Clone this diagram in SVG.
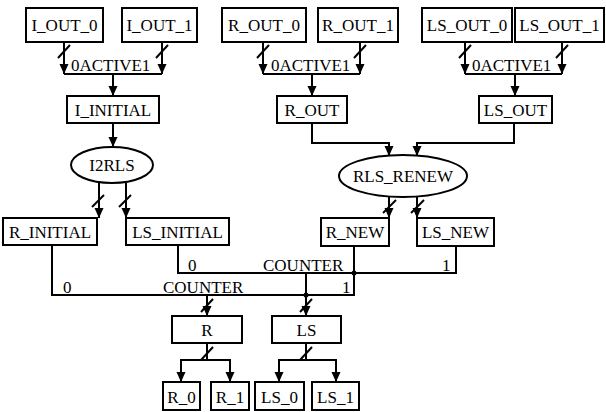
<svg xmlns="http://www.w3.org/2000/svg" width="606" height="412" viewBox="0 0 606 412">
<style>
rect.n{fill:#fff;stroke:#000;stroke-width:2}
ellipse.n{fill:#fff;stroke:#000;stroke-width:2}
text{font-family:"Liberation Serif","Times New Roman",serif;font-size:17px;fill:#000}
text.c{text-anchor:middle}
.w{fill:none;stroke:#000;stroke-width:2}
.a{fill:none;stroke:#000;stroke-width:2;marker-end:url(#ah)}
.s{stroke:#000;stroke-width:2}
</style>
<defs>
<marker id="ah" markerUnits="userSpaceOnUse" markerWidth="10" markerHeight="10" refX="10" refY="5" orient="auto">
<path d="M0,0.5 L10,5 L0,9.5 z" fill="#000"/>
</marker>
</defs>
<rect width="606" height="412" fill="#fff"/>
<g id="connectors">
<!-- I group -->
<path class="a" d="M64,42 V74"/>
<path class="a" d="M162,42 V74"/>
<path class="w" d="M64,74 H162"/>
<path class="a" d="M113,74 V96"/>
<line class="s" x1="58" y1="58" x2="70" y2="45"/>
<line class="s" x1="156" y1="58" x2="168" y2="45"/>
<text x="71" y="71">0ACTIVE1</text>
<!-- R group -->
<path class="a" d="M263,42 V74"/>
<path class="a" d="M360,42 V74"/>
<path class="w" d="M263,74 H360"/>
<path class="a" d="M312,74 V96"/>
<line class="s" x1="257" y1="58" x2="269" y2="45"/>
<line class="s" x1="354" y1="58" x2="366" y2="45"/>
<text x="271" y="71">0ACTIVE1</text>
<!-- LS group -->
<path class="a" d="M465,42 V74"/>
<path class="a" d="M562,42 V74"/>
<path class="w" d="M465,74 H562"/>
<path class="a" d="M515,74 V96"/>
<line class="s" x1="459" y1="58" x2="471" y2="45"/>
<line class="s" x1="556" y1="58" x2="568" y2="45"/>
<text x="472" y="71">0ACTIVE1</text>
<!-- I_INITIAL to I2RLS -->
<path class="a" d="M113,123 V147"/>
<!-- R_OUT / LS_OUT to RLS_RENEW -->
<path class="a" d="M312,123 V143 H389 V156"/>
<path class="a" d="M514,123 V143 H417 V156"/>
<!-- I2RLS outputs -->
<path class="a" d="M99,183 V218"/>
<path class="a" d="M126,183 V218"/>
<line class="s" x1="92" y1="207" x2="104" y2="195"/>
<line class="s" x1="119" y1="207" x2="131" y2="195"/>
<!-- RLS_RENEW outputs -->
<path class="a" d="M389,197 V218"/>
<path class="a" d="M417,197 V218"/>
<line class="s" x1="383" y1="213" x2="396" y2="200"/>
<line class="s" x1="411" y1="213" x2="424" y2="200"/>
<!-- Counter bus A (LS) -->
<path class="w" d="M178,245 V273 H456 V246"/>
<path class="a" d="M306,273 V316"/>
<line class="s" x1="300" y1="312" x2="312" y2="299"/>
<text x="188" y="271">0</text>
<text x="263" y="271">COUNTER</text>
<text x="442" y="271">1</text>
<!-- Counter bus B (R) -->
<path class="w" d="M52,245 V295 H354 V246"/>
<path class="a" d="M207,295 V316"/>
<line class="s" x1="201" y1="312" x2="213" y2="299"/>
<text x="63" y="293">0</text>
<text x="163" y="293">COUNTER</text>
<text x="342" y="293">1</text>
<circle cx="354" cy="273" r="2.5" fill="#000"/>
<circle cx="306" cy="295" r="2.5" fill="#000"/>
<!-- R split -->
<path class="w" d="M207,343 V360"/>
<path class="a" d="M207,360 H181 V382"/>
<path class="a" d="M207,360 H230 V382"/>
<line class="s" x1="201" y1="360" x2="213" y2="347"/>
<!-- LS split -->
<path class="w" d="M306,343 V360"/>
<path class="a" d="M306,360 H279 V382"/>
<path class="a" d="M306,360 H336 V382"/>
<line class="s" x1="300" y1="360" x2="312" y2="347"/>
</g>
<g id="I_OUT_0"><rect class="n" x="26" y="8" width="77" height="34"/><text class="c" x="64.5" y="31">I_OUT_0</text></g>
<g id="I_OUT_1"><rect class="n" x="122" y="8" width="75" height="34"/><text class="c" x="159.5" y="31">I_OUT_1</text></g>
<g id="R_OUT_0"><rect class="n" x="222" y="8" width="84" height="34"/><text class="c" x="264" y="31">R_OUT_0</text></g>
<g id="R_OUT_1"><rect class="n" x="318" y="8" width="80" height="34"/><text class="c" x="358" y="31">R_OUT_1</text></g>
<g id="LS_OUT_0"><rect class="n" x="422" y="8" width="90" height="34"/><text class="c" x="467" y="31">LS_OUT_0</text></g>
<g id="LS_OUT_1"><rect class="n" x="515" y="8" width="89" height="34"/><text class="c" x="559.5" y="31">LS_OUT_1</text></g>
<g id="I_INITIAL"><rect class="n" x="67" y="96" width="92" height="27"/><text class="c" x="113" y="116">I_INITIAL</text></g>
<g id="R_OUT"><rect class="n" x="277" y="96" width="70" height="27"/><text class="c" x="312" y="116">R_OUT</text></g>
<g id="LS_OUT"><rect class="n" x="479" y="96" width="73" height="27"/><text class="c" x="515.5" y="116">LS_OUT</text></g>
<g id="I2RLS"><ellipse class="n" cx="112" cy="165" rx="41" ry="18"/><text class="c" x="112" y="171">I2RLS</text></g>
<g id="RLS_RENEW"><ellipse class="n" cx="403" cy="176" rx="64" ry="21"/><text class="c" x="403" y="182">RLS_RENEW</text></g>
<g id="R_INITIAL"><rect class="n" x="3" y="218" width="94" height="27"/><text class="c" x="50" y="238">R_INITIAL</text></g>
<g id="LS_INITIAL"><rect class="n" x="126" y="218" width="103" height="27"/><text class="c" x="177.5" y="238">LS_INITIAL</text></g>
<g id="R_NEW"><rect class="n" x="321" y="218" width="68" height="28"/><text class="c" x="355" y="238">R_NEW</text></g>
<g id="LS_NEW"><rect class="n" x="417" y="218" width="77" height="28"/><text class="c" x="455.5" y="238">LS_NEW</text></g>
<g id="R"><rect class="n" x="172" y="316" width="70" height="27"/><text class="c" x="207" y="336">R</text></g>
<g id="LS"><rect class="n" x="272" y="316" width="69" height="27"/><text class="c" x="306.5" y="336">LS</text></g>
<g id="R_0"><rect class="n" x="163" y="382" width="37" height="28"/><text class="c" x="181.5" y="403">R_0</text></g>
<g id="R_1"><rect class="n" x="211" y="382" width="38" height="28"/><text class="c" x="230" y="403">R_1</text></g>
<g id="LS_0"><rect class="n" x="255" y="382" width="49" height="28"/><text class="c" x="279.5" y="403">LS_0</text></g>
<g id="LS_1"><rect class="n" x="312" y="382" width="47" height="28"/><text class="c" x="335.5" y="403">LS_1</text></g>
</svg>
